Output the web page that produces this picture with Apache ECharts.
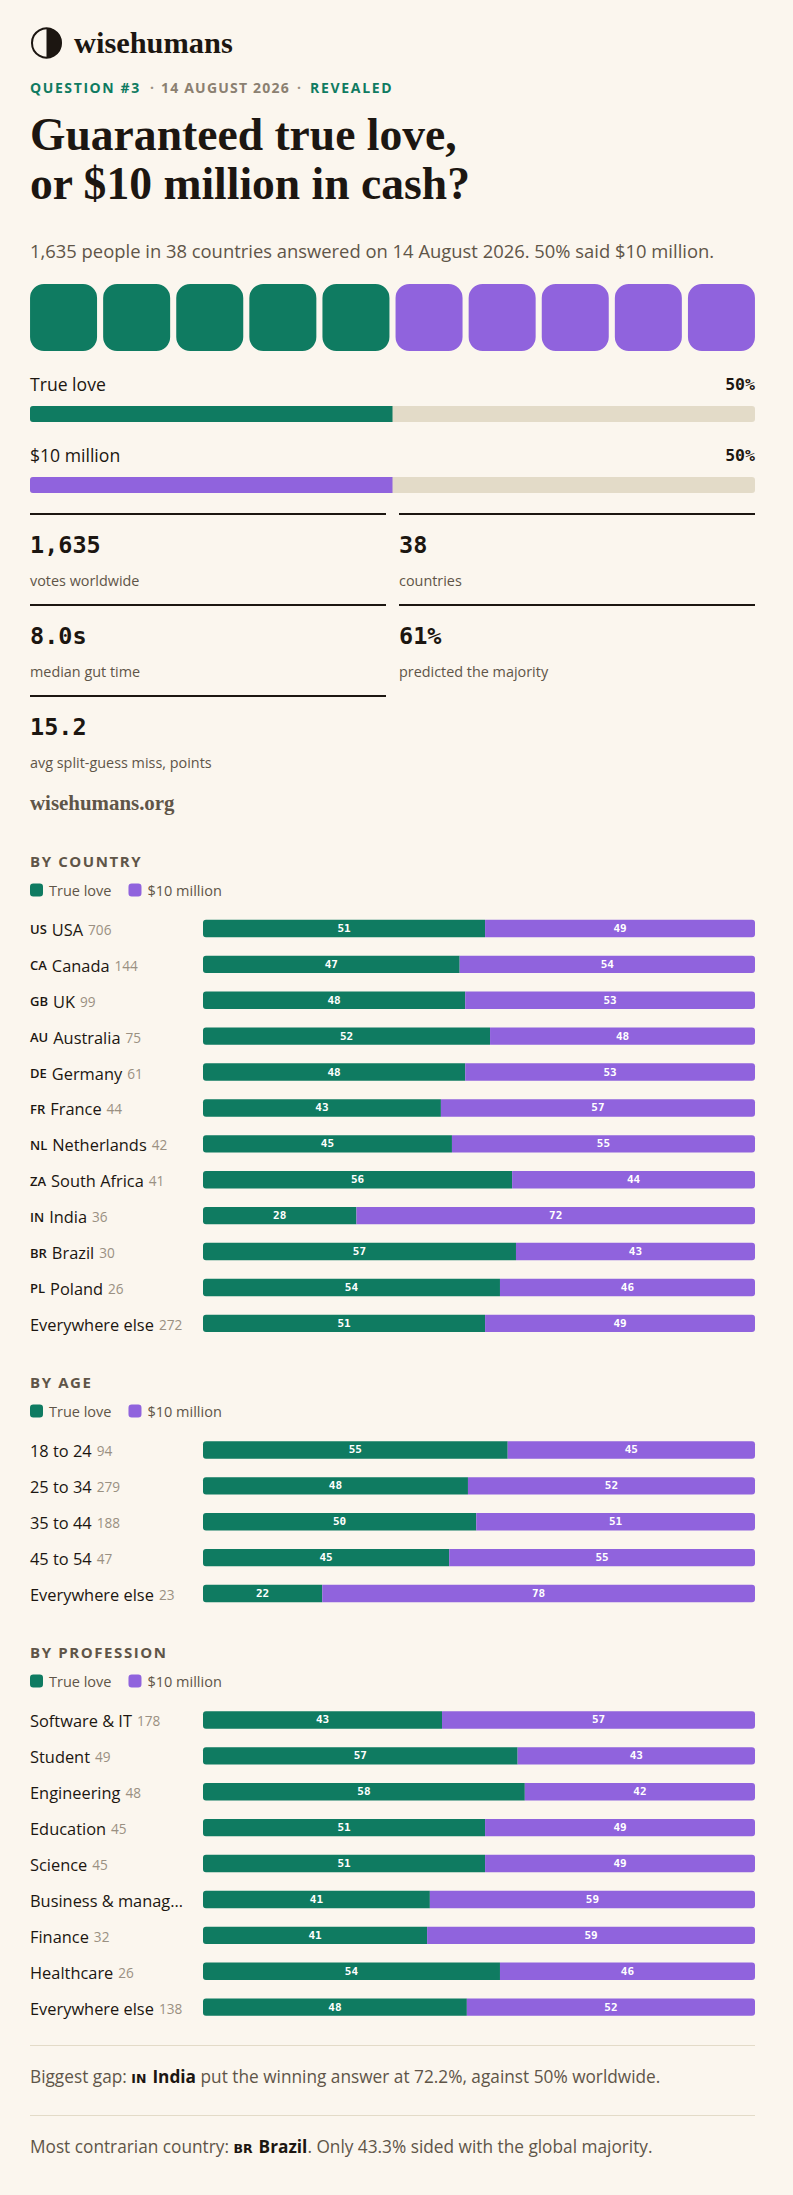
<!DOCTYPE html>
<html><head><meta charset="utf-8">
<style>html,body{margin:0;padding:0;background:#fbf6ee}#c{width:793px;height:2195px}</style>
<script src="https://cdn.jsdelivr.net/npm/echarts@6/dist/echarts.min.js"></script>
</head><body><div id="c"></div>
<script>
const OPTION_A = 'True love', OPTION_B = '$10 million';
const pictogram = [OPTION_A,OPTION_A,OPTION_A,OPTION_A,OPTION_A,OPTION_B,OPTION_B,OPTION_B,OPTION_B,OPTION_B];
const overallLabels = [OPTION_A, OPTION_B];
const overallValues = [50, 50];

const countryCats  = ['USA','Canada','UK','Australia','Germany','France','Netherlands','South Africa','India','Brazil','Poland','Everywhere else'];
const countryCodes = ['US','CA','GB','AU','DE','FR','NL','ZA','IN','BR','PL',''];
const countryN     = [706,144,99,75,61,44,42,41,36,30,26,272];
const countryLove  = [51.1,46.5,47.5,52.0,47.5,43.1,45.1,56.0,27.8,56.7,53.8,51.1];
const countryCash  = [48.9,53.5,52.5,48.0,52.5,56.9,54.9,44.0,72.2,43.3,46.2,48.9];

const ageCats = ['18 to 24','25 to 34','35 to 44','45 to 54','Everywhere else'];
const ageN    = [94,279,188,47,23];
const ageLove = [55.2,48.0,49.5,44.6,21.6];
const ageCash = [44.8,52.0,50.5,55.4,78.4];

const profCats = ['Software & IT','Student','Engineering','Education','Science','Business & manag…','Finance','Healthcare','Everywhere else'];
const profN    = [178,49,48,45,45,null,32,26,138];
const profLove = [43.3,57.0,58.3,51.1,51.1,41.1,40.6,53.8,47.8];
const profCash = [56.7,43.0,41.7,48.9,48.9,58.9,59.4,46.2,52.2];

const stats = [['1,635','votes worldwide'],['38','countries'],['8.0s','median gut time'],['61%','predicted the majority'],['15.2','avg split-guess miss, points']];

const GREEN='#0f7b61', PURPLE='#9063dd', TRACK='#e3dbc8', BG='#fbf6ee', INK='#1c1611', MUTED='#5f5548', FAINT='#9a9082';
const SANS='"Open Sans"', SERIF='"Liberation Serif"', MONO='"DejaVu Sans Mono"';
const L=30, R=755, W=725, BX=203, BW=552, PITCH=35.9;

const grid=[], xAxis=[], yAxis=[], series=[], legend=[], g=[];
function txt(x,y,text,o){ g.push({type:'text',x,y,silent:true,style:Object.assign({text,fill:INK,verticalAlign:'middle',align:'left',fontFamily:SANS,fontSize:14},o)}); }
function rect(x,y,w,h,fill){ g.push({type:'rect',silent:true,shape:{x,y,width:w,height:h},style:{fill}}); }

// logo
g.push({type:'circle',silent:true,shape:{cx:46.5,cy:43,r:14.5},style:{fill:BG,stroke:INK,lineWidth:2}});
g.push({type:'sector',silent:true,shape:{cx:46.5,cy:43,r:15,startAngle:-Math.PI/2,endAngle:Math.PI/2},style:{fill:INK}});
txt(74,43,'wisehumans',{fontFamily:SERIF,fontWeight:'bold',fontSize:30.4});
// kicker
txt(30,87.5,'QUESTION #3',{fontWeight:'bold',fontSize:14,fill:GREEN});
txt(150,87.5,'·',{fontWeight:'bold',fontSize:14,fill:FAINT});
txt(161,87.5,'14 AUGUST 2026',{fontWeight:'bold',fontSize:14,fill:'#8b8071'});
txt(297,87.5,'·',{fontWeight:'bold',fontSize:14,fill:FAINT});
txt(310,87.5,'REVEALED',{fontWeight:'bold',fontSize:14,fill:GREEN});
// title
txt(30,134,'Guaranteed true love,',{fontFamily:SERIF,fontWeight:'bold',fontSize:45.6});
txt(30,183,'or $10 million in cash?',{fontFamily:SERIF,fontWeight:'bold',fontSize:45.6});
txt(30,250.5,'1,635 people in 38 countries answered on 14 August 2026. 50% said $10 million.',{fontSize:18.4,fill:MUTED});

// pictogram
grid.push({left:27,width:731,top:284,height:67});
xAxis.push({type:'category',gridIndex:0,data:pictogram.map((d,i)=>i+1),show:false});
yAxis.push({type:'value',gridIndex:0,min:0,max:1,show:false});
series.push({type:'bar',name:'votes',xAxisIndex:0,yAxisIndex:0,barWidth:67,silent:true,animation:false,
  data:pictogram.map(p=>({value:1,itemStyle:{color:p===OPTION_A?GREEN:PURPLE,borderRadius:14}}))});

// overall bars
function overall(i,top,color){
  const k=grid.length;
  grid.push({left:L,width:W,top,height:16});
  xAxis.push({type:'value',gridIndex:k,min:0,max:100,show:false});
  yAxis.push({type:'category',gridIndex:k,data:[overallLabels[i]],show:false});
  series.push({type:'bar',name:overallLabels[i]+' overall',xAxisIndex:k,yAxisIndex:k,barWidth:16,silent:true,animation:false,
    showBackground:true,backgroundStyle:{color:TRACK,borderRadius:3},
    itemStyle:{color,borderRadius:[3,0,0,3]},data:[overallValues[i]]});
  txt(L,top-22,overallLabels[i],{fontSize:17.6});
  txt(R,top-22,overallValues[i]+'%',{align:'right',fontFamily:MONO,fontWeight:'bold',fontSize:16.5});
}
overall(0,406,GREEN); overall(1,477,PURPLE);

// stats
const statX=[30,399], statY=[514,605,696];
stats.forEach((s,i)=>{
  const x=statX[i%2], y=statY[Math.floor(i/2)];
  rect(x,y-1,356,2,INK);
  txt(x,y+31,s[0],{fontFamily:MONO,fontWeight:'bold',fontSize:23.5});
  txt(x,y+66,s[1],{fontSize:14.4,fill:MUTED});
});
txt(30,803,'wisehumans.org',{fontFamily:SERIF,fontWeight:'bold',fontSize:20.9,fill:MUTED});

// sections
function section(title,cats,codes,ns,love,cash,headY,top){
  txt(L,headY,title,{fontWeight:'bold',fontSize:15,fill:MUTED});
  const k=grid.length;
  legend.push({left:L-5,top:headY+22,data:[OPTION_A,OPTION_B],icon:'roundRect',itemWidth:13,itemHeight:13,itemGap:17,selectedMode:false,padding:[0,5],
    textStyle:{fontFamily:SANS,fontSize:14.5,color:MUTED,padding:[0,0,0,1]}});
  grid.push({left:BX,width:BW,top,height:PITCH*cats.length});
  xAxis.push({type:'value',gridIndex:k,min:0,max:100,show:false});
  yAxis.push({type:'category',gridIndex:k,inverse:true,data:cats,axisLine:{show:false},axisTick:{show:false},
    axisLabel:{margin:173,align:'left',fontFamily:SANS,interval:0,padding:[2,0,0,0],
      formatter:(v,i)=>{const c=codes&&codes[i];const n=ns[i];return (c?'{code|'+c+'}':'')+'{name|'+v.replace(/[{}|]/g,'')+'}'+(n!=null?'{n|'+n+'}':'');},
      rich:{code:{fontFamily:SANS,fontSize:13,fontWeight:600,color:INK,padding:[0,5,0,0]},name:{fontFamily:SANS,fontSize:16.4,color:INK},n:{fontFamily:SANS,fontSize:13.6,color:FAINT,padding:[0,0,0,5]}}}});
  const lab={show:true,position:'inside',color:'#fff',fontFamily:MONO,fontWeight:'bold',fontSize:11,formatter:p=>Math.round(p.value)};
  series.push({type:'bar',name:OPTION_A,stack:'s'+k,xAxisIndex:k,yAxisIndex:k,barWidth:17.4,silent:true,animation:false,color:GREEN,itemStyle:{color:GREEN,borderRadius:[3,0,0,3]},label:lab,data:love});
  series.push({type:'bar',name:OPTION_B,stack:'s'+k,xAxisIndex:k,yAxisIndex:k,barWidth:17.4,silent:true,animation:false,color:PURPLE,itemStyle:{color:PURPLE,borderRadius:[0,3,3,0]},label:lab,data:cash});
}
section('BY COUNTRY',countryCats,countryCodes,countryN,countryLove,countryCash,860.5,910.5);
section('BY AGE',ageCats,null,ageN,ageLove,ageCash,1381.5,1432);
section('BY PROFESSION',profCats,null,profN,profLove,profCash,1651.5,1702);

// footnotes
rect(30,2045,725,1,TRACK); rect(30,2115,725,1,TRACK);
const footRich={t:{fontFamily:SANS,fontSize:17.25,fill:MUTED},c:{fontFamily:'"DejaVu Sans"',fontSize:12.5,fontWeight:'bold',fill:INK,padding:[4,6,0,0]},b:{fontFamily:SANS,fontSize:17.25,fontWeight:'bold',fill:INK}};
g.push({type:'text',x:30,y:2076,silent:true,style:{text:'{t|Biggest gap: }{c|IN}{b|India}{t| put the winning answer at 72.2%, against 50% worldwide.}',verticalAlign:'middle',rich:footRich}});
g.push({type:'text',x:30,y:2146,silent:true,style:{text:'{t|Most contrarian country: }{c|BR}{b|Brazil}{t|. Only 43.3% sided with the global majority.}',verticalAlign:'middle',rich:footRich}});

const chart=echarts.init(document.getElementById('c'),null,{renderer:'svg',width:793,height:2195});
chart.setOption({animation:false,backgroundColor:BG,tooltip:{show:false},grid,xAxis,yAxis,legend,series,graphic:{elements:g}});
const SPACED={'QUESTION #3':'1.6px','14 AUGUST 2026':'1.2px','REVEALED':'1.7px','BY COUNTRY':'1.6px','BY AGE':'1.6px','BY PROFESSION':'1.6px'};
function spacing(){
  document.querySelectorAll('#c svg text').forEach(t=>{
    const s=SPACED[t.textContent];
    if(s) t.style.letterSpacing=s;
  });
}
chart.on('finished',spacing); spacing();
</script></body></html>
